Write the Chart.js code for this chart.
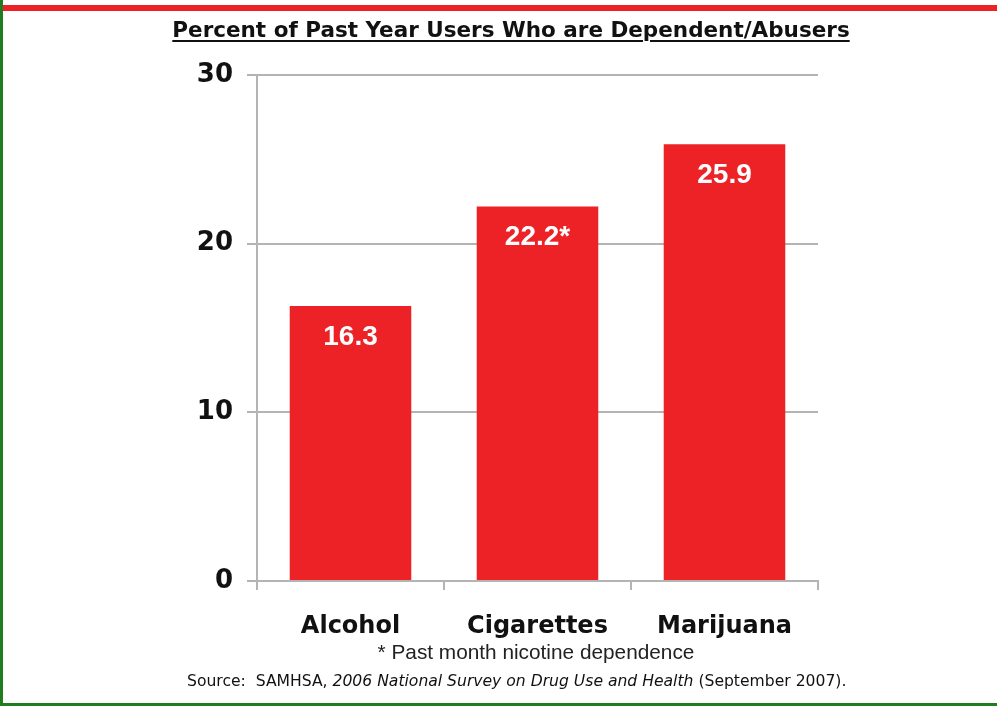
<!DOCTYPE html>
<html>
<head>
<meta charset="utf-8">
<script src="https://cdn.jsdelivr.net/npm/chart.js@4"></script>
<style>
  html, body { margin: 0; padding: 0; background: #fff; }
  #wrap { position: relative; width: 997px; height: 708px; overflow: hidden; }
  #redLine { position: absolute; left: 3px; top: 5px; width: 994px; height: 6px; background: #ed2227; }
  #greenLeft { position: absolute; left: 0; top: 0; width: 3px; height: 706px; background: #1f7d1f; }
  #greenBottom { position: absolute; left: 0; top: 703px; width: 997px; height: 3px; background: #1f7d1f; }
  #title { position: absolute; left: 0; width: 1022px; top: 17px; text-align: center;
    font: bold 21.5px "DejaVu Sans"; color: #111; }
  #title span { text-decoration: underline; text-decoration-thickness: 2px; text-underline-offset: 3px; }
  #note { position: absolute; left: 0; width: 1072px; top: 640px; text-align: center;
    font: 20.8px "Liberation Sans"; color: #222; }
  #source { position: absolute; left: 187px; top: 672px; font: 15.6px "DejaVu Sans"; color: #111; white-space: nowrap; }
  canvas { position: absolute; left: 0; top: 0; }
</style>
</head>
<body>
<div id="wrap">
  <canvas id="chart" width="997" height="708"></canvas>
  <div id="redLine"></div>
  <div id="greenLeft"></div>
  <div id="greenBottom"></div>
  <div id="title"><span>Percent of Past Year Users Who are Dependent/Abusers</span></div>
  <div id="note">* Past month nicotine dependence</div>
  <div id="source">Source:&nbsp; SAMHSA, <i>2006 National Survey on Drug Use and Health</i> (September 2007).</div>
</div>
<script>
const categories = ["Alcohol", "Cigarettes", "Marijuana"];
const percents = [16.3, 22.2, 25.9];
const barLabels = ["16.3", "22.2*", "25.9"];
const yTicks = [0, 10, 20, 30];

const barRed = "#ed2227";
const gridGrey = "#b4b4b4";

// white value text inside the top of each bar
const insideLabels = {
  id: "insideLabels",
  afterDatasetsDraw(chart) {
    const ctx = chart.ctx;
    const meta = chart.getDatasetMeta(0);
    ctx.save();
    ctx.fillStyle = "#fff";
    ctx.font = "bold 28px 'Liberation Sans'";
    ctx.textAlign = "center";
    ctx.textBaseline = "middle";
    meta.data.forEach((bar, i) => {
      ctx.fillText(barLabels[i], bar.x, bar.y + 31);
    });
    ctx.restore();
  }
};

const ctx = document.getElementById("chart").getContext("2d");
new Chart(ctx, {
  type: "bar",
  data: {
    labels: categories,
    datasets: [{
      data: percents,
      backgroundColor: barRed,
      borderWidth: 0,
      barPercentage: 0.65,
      categoryPercentage: 1.0
    }]
  },
  options: {
    responsive: false,
    animation: false,
    layout: { padding: { left: 0, right: 179, top: 75, bottom: 67 } },
    plugins: { legend: { display: false }, tooltip: { enabled: false } },
    scales: {
      x: {
        afterFit: (scale) => { scale.height = 60; },
        grid: {
          offset: true,
          drawOnChartArea: true,
          color: (c) => (c.index === categories.length ? gridGrey : "rgba(0,0,0,0)"),
          tickColor: gridGrey,
          tickLength: 9,
          lineWidth: 2
        },
        border: { color: gridGrey, width: 2 },
        ticks: {
          color: "#111",
          font: { family: "DejaVu Sans", weight: "bold", size: 24 },
          padding: 22
        }
      },
      y: {
        min: 0,
        max: 30,
        afterFit: (scale) => { scale.width = 257; },
        afterBuildTicks: (scale) => { scale.ticks = yTicks.map((v) => ({ value: v })); },
        grid: { color: gridGrey, tickColor: gridGrey, tickLength: 10, lineWidth: 2 },
        border: { color: gridGrey, width: 2 },
        ticks: {
          color: "#111",
          font: { family: "DejaVu Sans", weight: "bold", size: 26 },
          padding: 14
        }
      }
    }
  },
  plugins: [insideLabels]
});
</script>
</body>
</html>
